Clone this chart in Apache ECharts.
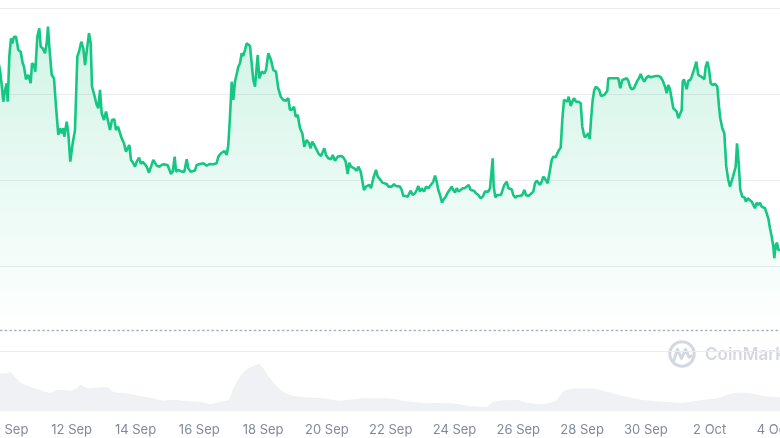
<!DOCTYPE html>
<html>
<head>
<meta charset="utf-8">
<script src="https://cdn.jsdelivr.net/npm/echarts@6.0.0/dist/echarts.min.js"></script>
<style>
html,body{margin:0;padding:0;background:#ffffff;}
#chart{width:780px;height:438px;}
</style>
</head>
<body>
<div id="chart"></div>
<script>
// X axis: days since 10 Sep 00:00
const tickDays = [-2, 0, 2, 4, 6, 8, 10, 12, 14, 16, 18, 20, 22, 24, 26];
const tickLabels = ['8 Sep', '10 Sep', '12 Sep', '14 Sep', '16 Sep', '18 Sep', '20 Sep', '22 Sep', '24 Sep', '26 Sep', '28 Sep', '30 Sep', '2 Oct', '4 Oct', '6 Oct'];

// Price: [day, price]
const pricePoints = [
[-0.342,3.458],[-0.248,3.283],[-0.194,3.108],[-0.144,2.913],[-0.091,3.050],[-0.038,3.128],[-0.006,2.913],[0.044,3.438],[0.097,3.653],[0.138,3.594],[0.191,3.671],[0.254,3.671],[0.326,3.516],[0.401,3.496],[0.464,3.361],[0.505,3.321],[0.567,3.174],[0.639,3.225],[0.715,3.128],[0.755,3.361],[0.818,3.341],[0.859,3.263],[0.922,3.671],[0.984,3.769],[1.028,3.555],[1.091,3.536],[1.163,3.478],[1.216,3.594],[1.257,3.788],[1.298,3.555],[1.373,3.225],[1.445,3.186],[1.508,2.855],[1.580,2.525],[1.633,2.603],[1.687,2.545],[1.737,2.603],[1.768,2.505],[1.843,2.680],[1.893,2.545],[1.956,2.213],[2.031,2.428],[2.103,2.583],[2.176,3.438],[2.229,3.496],[2.301,3.613],[2.364,3.536],[2.417,3.341],[2.470,3.361],[2.542,3.711],[2.596,3.594],[2.636,3.088],[2.708,2.991],[2.784,2.875],[2.834,2.836],[2.887,3.050],[2.940,2.778],[3.013,2.700],[3.075,2.797],[3.129,2.816],[3.201,2.583],[3.263,2.700],[3.335,2.708],[3.389,2.583],[3.451,2.622],[3.492,2.630],[3.567,2.486],[3.639,2.428],[3.702,2.330],[3.755,2.370],[3.806,2.408],[3.859,2.233],[3.931,2.195],[3.984,2.155],[4.038,2.213],[4.110,2.260],[4.172,2.187],[4.226,2.213],[4.276,2.233],[4.351,2.155],[4.423,2.085],[4.486,2.155],[4.558,2.233],[4.611,2.225],[4.665,2.167],[4.746,2.155],[4.821,2.175],[4.893,2.183],[4.947,2.202],[5.009,2.171],[5.060,2.155],[5.113,2.070],[5.166,2.097],[5.229,2.272],[5.270,2.097],[5.342,2.117],[5.448,2.097],[5.530,2.097],[5.605,2.241],[5.655,2.136],[5.730,2.097],[5.865,2.111],[5.918,2.175],[6.022,2.187],[6.125,2.195],[6.179,2.213],[6.232,2.167],[6.335,2.187],[6.439,2.183],[6.545,2.195],[6.596,2.272],[6.680,2.311],[6.734,2.292],[6.784,2.338],[6.859,2.292],[6.909,2.408],[6.962,2.738],[7.016,3.146],[7.066,2.933],[7.119,3.146],[7.172,3.166],[7.223,3.321],[7.276,3.361],[7.329,3.478],[7.379,3.446],[7.433,3.516],[7.486,3.594],[7.536,3.594],[7.589,3.563],[7.643,3.574],[7.693,3.166],[7.746,3.088],[7.831,3.458],[7.881,3.186],[7.956,3.263],[8.038,3.244],[8.091,3.283],[8.163,3.478],[8.248,3.399],[8.320,3.283],[8.404,3.263],[8.476,3.069],[8.552,2.971],[8.633,2.933],[8.718,2.925],[8.790,2.953],[8.843,2.816],[8.915,2.825],[8.969,2.855],[9.022,2.738],[9.085,2.758],[9.157,2.603],[9.229,2.545],[9.292,2.388],[9.367,2.467],[9.439,2.428],[9.492,2.370],[9.542,2.447],[9.605,2.408],[9.658,2.388],[9.730,2.311],[9.815,2.280],[9.868,2.272],[9.918,2.370],[9.972,2.292],[10.044,2.253],[10.129,2.241],[10.182,2.292],[10.254,2.225],[10.339,2.272],[10.389,2.253],[10.442,2.280],[10.514,2.265],[10.589,2.213],[10.652,2.070],[10.702,2.202],[10.755,2.155],[10.796,2.148],[10.859,2.136],[10.934,2.108],[10.984,2.155],[11.060,2.097],[11.122,2.078],[11.163,1.883],[11.226,1.922],[11.279,1.903],[11.329,1.942],[11.382,1.903],[11.455,2.020],[11.539,2.117],[11.592,2.039],[11.665,2.008],[11.737,1.969],[11.799,1.988],[11.875,1.953],[11.925,1.922],[11.978,1.903],[12.031,1.922],[12.103,1.950],[12.166,1.930],[12.219,1.950],[12.292,1.922],[12.345,1.883],[12.395,1.813],[12.470,1.813],[12.533,1.805],[12.583,1.845],[12.627,1.875],[12.690,1.825],[12.762,1.845],[12.815,1.883],[12.865,1.930],[12.918,1.864],[12.972,1.903],[13.044,1.864],[13.107,1.922],[13.179,1.903],[13.232,1.930],[13.285,1.922],[13.335,1.980],[13.389,2.050],[13.442,1.980],[13.492,1.883],[13.545,1.825],[13.608,1.735],[13.649,1.767],[13.724,1.805],[13.787,1.852],[13.859,1.892],[13.912,1.922],[13.962,1.883],[14.016,1.852],[14.069,1.903],[14.132,1.864],[14.194,1.883],[14.257,1.903],[14.320,1.903],[14.382,1.915],[14.445,1.942],[14.508,1.883],[14.558,1.864],[14.611,1.875],[14.674,1.845],[14.746,1.825],[14.821,1.787],[14.884,1.805],[14.956,1.864],[15.009,1.875],[15.060,1.864],[15.113,1.903],[15.154,1.922],[15.197,2.253],[15.229,1.922],[15.279,1.798],[15.342,1.825],[15.404,1.813],[15.458,1.825],[15.511,1.845],[15.561,1.942],[15.636,1.980],[15.687,1.903],[15.740,1.883],[15.793,1.892],[15.843,1.825],[15.906,1.794],[15.969,1.813],[16.053,1.813],[16.125,1.825],[16.188,1.883],[16.241,1.825],[16.313,1.813],[16.389,1.837],[16.470,1.864],[16.524,1.962],[16.577,1.992],[16.627,1.980],[16.680,1.942],[16.734,1.980],[16.784,2.039],[16.846,2.008],[16.922,1.962],[16.972,1.969],[17.047,2.233],[17.097,2.272],[17.172,2.265],[17.223,2.311],[17.276,2.350],[17.329,2.377],[17.379,2.700],[17.433,2.933],[17.486,2.941],[17.536,2.913],[17.580,2.971],[17.643,2.863],[17.693,2.913],[17.746,2.953],[17.809,2.913],[17.881,2.913],[17.956,2.895],[18.006,2.622],[18.060,2.525],[18.091,2.496],[18.144,2.498],[18.194,2.545],[18.238,2.475],[18.279,2.700],[18.332,2.933],[18.382,3.050],[18.436,3.088],[18.489,3.096],[18.539,3.050],[18.592,2.980],[18.646,2.964],[18.696,2.991],[18.749,3.003],[18.790,3.041],[18.821,3.186],[18.875,3.174],[18.928,3.186],[18.978,3.174],[19.031,3.186],[19.085,3.166],[19.135,3.186],[19.197,3.069],[19.260,3.166],[19.323,3.174],[19.398,3.186],[19.448,3.158],[19.502,3.088],[19.555,3.058],[19.627,3.069],[19.680,3.050],[19.730,3.158],[19.784,3.186],[19.837,3.236],[19.887,3.186],[19.950,3.146],[20.003,3.186],[20.075,3.213],[20.150,3.198],[20.213,3.205],[20.263,3.186],[20.317,3.213],[20.389,3.213],[20.464,3.198],[20.527,3.158],[20.599,3.088],[20.652,3.011],[20.702,3.108],[20.755,3.058],[20.809,3.050],[20.859,2.836],[20.912,2.825],[20.966,2.797],[21.016,2.720],[21.078,2.720],[21.122,2.816],[21.154,3.146],[21.194,3.174],[21.226,3.128],[21.279,3.058],[21.329,3.158],[21.392,3.166],[21.436,3.205],[21.498,3.225],[21.539,3.321],[21.580,3.380],[21.643,3.225],[21.705,3.213],[21.768,3.198],[21.831,3.174],[21.875,3.321],[21.925,3.380],[21.978,3.291],[22.031,3.128],[22.094,3.108],[22.166,3.120],[22.238,3.088],[22.292,2.855],[22.332,2.720],[22.395,2.603],[22.458,2.545],[22.520,2.155],[22.583,2.000],[22.636,1.922],[22.690,1.922],[22.730,2.039],[22.771,2.058],[22.815,2.155],[22.856,2.428],[22.909,2.195],[22.959,1.883],[23.022,1.805],[23.085,1.798],[23.138,1.747],[23.191,1.787],[23.241,1.787],[23.317,1.747],[23.367,1.735],[23.420,1.670],[23.473,1.735],[23.524,1.708],[23.577,1.735],[23.630,1.689],[23.680,1.708],[23.734,1.670],[23.787,1.658],[23.837,1.553],[23.890,1.437],[23.944,1.339],[23.994,1.222],[24.025,1.087],[24.072,1.242],[24.110,1.269],[24.150,1.184],[24.204,1.164],[24.267,1.184]
];

// Volume: [day, volume]
const volumePoints = [
[-0.4,9.5],[-0.248,9.55],[0.013,9.7],[0.066,9.95],[0.223,8.7],[0.433,7.05],[0.754,6.05],[1.006,5.38],[1.320,4.7],[1.580,5.38],[1.947,5.2],[2.157,5.8],[2.260,6.63],[2.520,5.8],[2.887,6.05],[3.097,6.05],[3.304,4.95],[3.724,4.55],[4.141,3.88],[4.558,3.3],[4.871,2.7],[5.185,2.88],[5.605,2.63],[6.022,2.45],[6.335,1.88],[6.649,2.45],[6.909,2.88],[7.066,5.8],[7.276,8.7],[7.486,10.55],[7.693,11.38],[7.881,11.88],[8.006,10.8],[8.216,8.3],[8.530,5.55],[8.843,4.13],[9.367,3.55],[9.887,3.3],[10.411,2.7],[10.828,3.05],[11.248,3.3],[11.978,3.25],[12.395,2.63],[13.022,2.2],[13.859,2.05],[14.486,1.38],[15.009,1.2],[15.216,2.45],[15.950,2.88],[16.263,2.2],[16.784,1.88],[17.204,2.88],[17.411,4.95],[17.831,5.8],[18.248,5.8],[18.771,4.95],[19.292,3.88],[19.918,2.88],[20.545,2.45],[21.172,2.2],[21.592,2.7],[22.219,3.3],[22.846,4.7],[23.263,4.55],[23.680,3.88],[24.204,3.55],[24.4,3.5]
];

const priceBaseline = 0.25;   // dotted reference level
const gridLevels = [0, 4, 1];  // min, max, step of the horizontal guide lines

const chart = echarts.init(document.getElementById('chart'), null, {renderer: 'canvas'});

const GL = -55.9, GW = 893.2;
const commonX = {type: 'value', min: tickDays[0], max: tickDays[tickDays.length - 1], interval: 2};

chart.setOption({
  animation: false,
  backgroundColor: '#ffffff',
  grid: [
    {left: GL, width: GW, top: 8.5, height: 343, containLabel: false, outerBoundsMode: 'none'},
    {left: GL, width: GW, top: 8.5, height: 321.5, containLabel: false, outerBoundsMode: 'none'},
    {left: GL, width: GW, top: 331.5, height: 80, containLabel: false, outerBoundsMode: 'none'}
  ],
  xAxis: [
    Object.assign({gridIndex: 0, show: false}, commonX),
    Object.assign({gridIndex: 1, axisLine: {show: true, onZero: false, lineStyle: {color: '#a7b1c2', width: 1.3, type: [1.4, 3.3]}},
      axisTick: {show: false}, axisLabel: {show: false}, splitLine: {show: false}}, commonX),
    Object.assign({gridIndex: 2, axisLine: {show: false}, axisTick: {show: false}, splitLine: {show: false},
      axisLabel: {show: true, color: '#808a9d', fontFamily: 'Inter', fontSize: 13, margin: 12,
        formatter: function (v) { const i = tickDays.indexOf(v); return i >= 0 ? tickLabels[i] : ''; }}}, commonX)
  ],
  yAxis: [
    {gridIndex: 0, type: 'value', min: gridLevels[0], max: gridLevels[1], interval: gridLevels[2],
      axisLine: {show: false}, axisTick: {show: false}, axisLabel: {show: false},
      splitLine: {show: true, lineStyle: {color: '#eaecef', width: 1}}},
    {gridIndex: 1, type: 'value', min: priceBaseline, max: gridLevels[1], show: false, splitLine: {show: false}},
    {gridIndex: 2, type: 'value', min: 0, max: 20, show: false, splitLine: {show: false}}
  ],
  series: [
    {
      type: 'line', xAxisIndex: 2, yAxisIndex: 2, data: volumePoints,
      showSymbol: false, smooth: 0.3, silent: true,
      lineStyle: {width: 0},
      areaStyle: {color: '#f0f1f5', opacity: 1}
    },
    {
      type: 'line', xAxisIndex: 1, yAxisIndex: 1, data: pricePoints,
      showSymbol: false, silent: true,
      lineStyle: {color: '#16c784', width: 2.6},
      areaStyle: {
        color: new echarts.graphic.LinearGradient(0, 0, 0, 1, [
          {offset: 0, color: 'rgba(22,199,132,0.28)'},
          {offset: 1, color: 'rgba(22,199,132,0.0)'}
        ])
      }
    }
  ],
  graphic: [
    {type: 'circle', shape: {cx: 682, cy: 354, r: 12.2}, style: {fill: 'none', stroke: '#d3d8e2', lineWidth: 3}, silent: true},
    {type: 'polyline', shape: {points: [[673.5, 361], [677.5, 349.5], [681.5, 358.5], [685.5, 349.5], [689, 357], [691.5, 356]]},
      style: {fill: 'none', stroke: '#d3d8e2', lineWidth: 3, lineJoin: 'round', lineCap: 'round'}, silent: true},
    {type: 'text', x: 705, y: 355, style: {text: 'CoinMarketCap', font: '600 17px Inter', fill: '#d3d8e2', textVerticalAlign: 'middle'}, silent: true}
  ]
});
</script>
</body>
</html>
